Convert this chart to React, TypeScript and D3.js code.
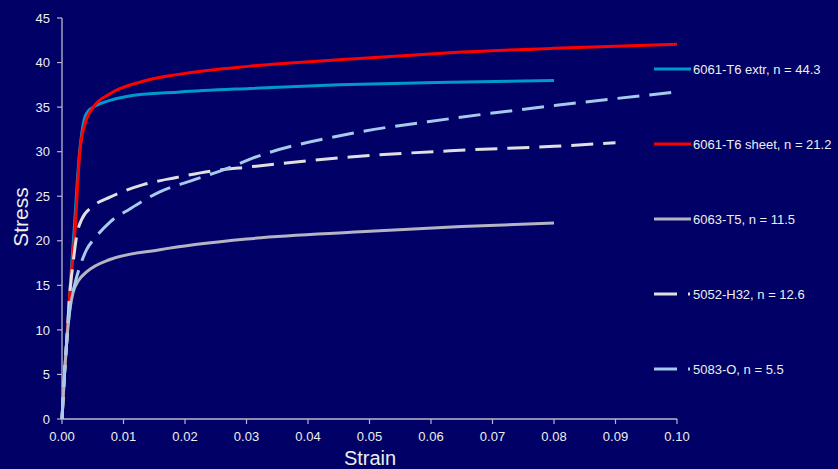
import React from "react";
import * as d3 from "d3";

type Pt = [number, number];

const extr6061: Pt[] = [
  [0, 0], [0.0004, 5], [0.0008, 9], [0.0012, 13.5], [0.002, 21.5], [0.0028, 29.5],
  [0.0032, 32], [0.0036, 33.6], [0.0042, 34.5], [0.0051, 35.0], [0.0075, 35.7],
  [0.0105, 36.2], [0.0192, 36.7], [0.0306, 37.1], [0.045, 37.5], [0.0631, 37.8], [0.08, 38.0],
];
const sheet6061: Pt[] = [
  [0, 0], [0.0004, 5], [0.0008, 9], [0.00125, 13.8], [0.0021, 21], [0.0029, 30.0],
  [0.0037, 33.0], [0.0051, 35.0], [0.0078, 36.5], [0.0132, 37.9], [0.0192, 38.7],
  [0.0306, 39.6], [0.0468, 40.4], [0.0631, 41.1], [0.08, 41.6], [0.1, 42.05],
];
const t5_6063: Pt[] = [
  [0, 0], [0.0004, 5], [0.0008, 9], [0.0013, 12.4], [0.0018, 14.2], [0.00265, 15.5],
  [0.004, 16.5], [0.0078, 17.9], [0.0159, 19.0], [0.03, 20.2], [0.0485, 21.0],
  [0.065, 21.6], [0.08, 22.0],
];
const h32_5052: Pt[] = [
  [0, 0], [0.0004, 5], [0.0008, 9], [0.0012, 13.5], [0.0018, 17.5], [0.0024, 20.6],
  [0.0032, 22.4], [0.0051, 23.9], [0.0078, 24.9], [0.0132, 26.3], [0.0186, 27.1],
  [0.0241, 27.8], [0.0306, 28.3], [0.0468, 29.4], [0.0631, 30.1], [0.08, 30.6], [0.09, 31.0],
];
const o5083: Pt[] = [
  [0, 0], [0.0004, 5], [0.0008, 9], [0.0013, 12.5], [0.0021, 15.2], [0.0029, 17.1],
  [0.004, 19.0], [0.0056, 20.5], [0.0078, 22.1], [0.0111, 23.6], [0.0159, 25.5],
  [0.0213, 26.8], [0.0268, 28.1], [0.0311, 29.3], [0.0468, 32.0], [0.0631, 33.7],
  [0.0804, 35.2], [0.1, 36.7],
];

const seriesNames = [
  "6061-T6 extr, n = 44.3",
  "6061-T6 sheet, n = 21.2",
  "6063-T5, n = 11.5",
  "5052-H32, n = 12.6",
  "5083-O, n = 5.5",
];
const seriesData = [extr6061, sheet6061, t5_6063, h32_5052, o5083];
const seriesColors = ["#0099CC", "#FF0000", "#B4B4C4", "#E0E0E0", "#A6CAEC"];
const seriesDashed = [false, false, false, true, true];

const xTicks = [0, 0.01, 0.02, 0.03, 0.04, 0.05, 0.06, 0.07, 0.08, 0.09, 0.1];
const yTicks = [0, 5, 10, 15, 20, 25, 30, 35, 40, 45];

const W = 838;
const H = 469;
const BG = "#000066";
const AXIS = "#B8B8CC";
const TEXT = "#EEEEEE";
const FONT = "'Liberation Sans', Arial, sans-serif";

export default function App() {
  const x = d3.scaleLinear().domain([0, 0.1]).range([62, 677]);
  const y = d3.scaleLinear().domain([0, 45]).range([419, 18]);
  const line = d3
    .line<Pt>()
    .x((d) => x(d[0]))
    .y((d) => y(d[1]))
    .curve(d3.curveMonotoneX);

  const fmt = d3.format(".2f");
  const legendY0 = 69;
  const legendStep = 75;

  return (
    <svg
      width={W}
      height={H}
      style={{ position: "fixed", left: 0, top: 0, display: "block", background: BG }}
    >
      <rect x={0} y={0} width={W} height={H} fill={BG} />
      {/* axes */}
      <line x1={x(0)} x2={x(0)} y1={y(45)} y2={y(0)} stroke={AXIS} strokeWidth={1.3} />
      <line x1={x(0)} x2={x(0.1)} y1={y(0)} y2={y(0)} stroke={AXIS} strokeWidth={1.3} />
      {yTicks.map((t) => (
        <g key={"y" + t}>
          <line x1={x(0) - 5} x2={x(0)} y1={y(t)} y2={y(t)} stroke={AXIS} strokeWidth={1.2} />
          <text
            x={50}
            y={y(t)}
            dy="0.36em"
            textAnchor="end"
            fontFamily={FONT}
            fontSize={13}
            fill={TEXT}
          >
            {t}
          </text>
        </g>
      ))}
      {xTicks.map((t) => (
        <g key={"x" + t}>
          <line x1={x(t)} x2={x(t)} y1={y(0)} y2={y(0) + 5} stroke={AXIS} strokeWidth={1.2} />
          <text
            x={x(t)}
            y={436}
            dy="0.36em"
            textAnchor="middle"
            fontFamily={FONT}
            fontSize={13}
            fill={TEXT}
          >
            {fmt(t)}
          </text>
        </g>
      ))}
      <text
        x={370}
        y={458}
        dy="0.36em"
        textAnchor="middle"
        fontFamily={FONT}
        fontSize={20}
        fill={TEXT}
      >
        Strain
      </text>
      <text
        transform={`translate(20,217) rotate(-90)`}
        dy="0.36em"
        textAnchor="middle"
        fontFamily={FONT}
        fontSize={21}
        fill={TEXT}
      >
        Stress
      </text>
      {/* curves */}
      {seriesData.map((d, i) => (
        <path
          key={"c" + i}
          d={line(d) || ""}
          fill="none"
          stroke={seriesColors[i]}
          strokeWidth={3}
          strokeDasharray={seriesDashed[i] ? "22 10" : undefined}
        />
      ))}
      {/* legend */}
      {seriesNames.map((n, i) => {
        const ly = legendY0 + i * legendStep;
        return (
          <g key={"l" + i}>
            <line
              x1={654}
              x2={seriesDashed[i] ? 690 : 691}
              y1={ly}
              y2={ly}
              stroke={seriesColors[i]}
              strokeWidth={3}
              strokeDasharray={seriesDashed[i] ? "23 11" : undefined}
            />
            <text
              x={693}
              y={ly}
              dy="0.36em"
              fontFamily={FONT}
              fontSize={13}
              fill={TEXT}
            >
              {n}
            </text>
          </g>
        );
      })}
    </svg>
  );
}
